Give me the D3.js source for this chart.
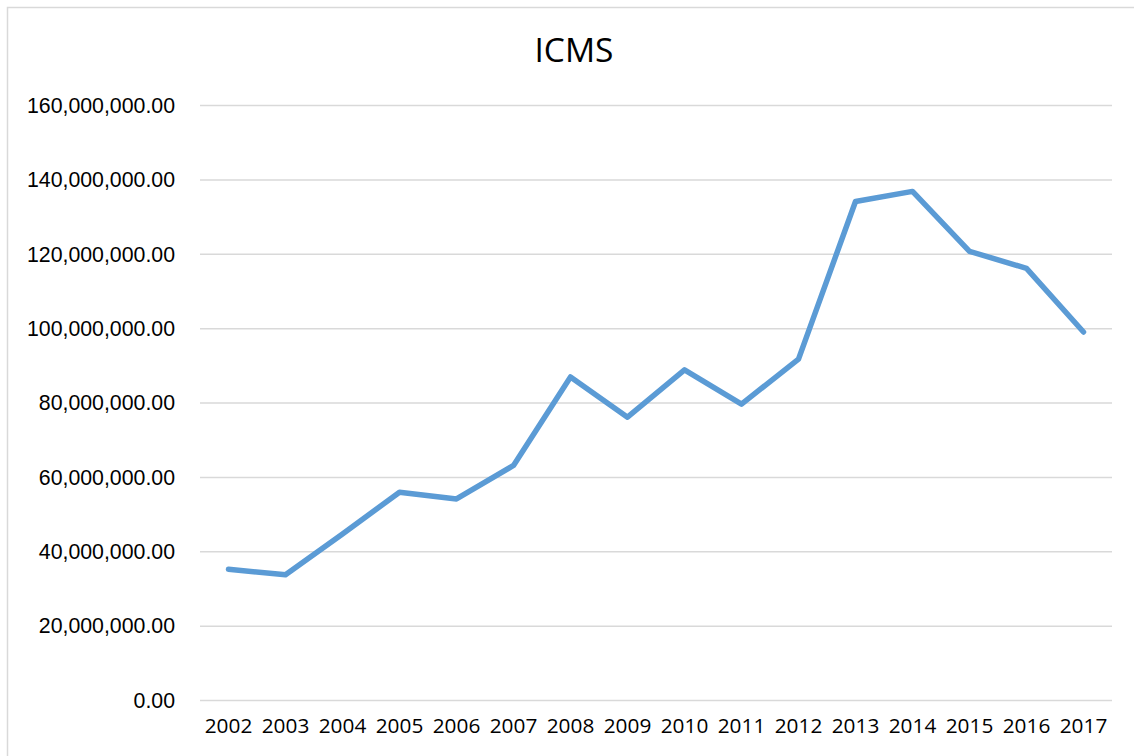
<!DOCTYPE html>
<html>
<head>
<meta charset="utf-8">
<script src="https://cdn.jsdelivr.net/npm/d3@7"></script>
<style>
  html, body { margin: 0; padding: 0; background: #fff; }
  svg { display: block; }
</style>
</head>
<body>
<svg id="chart" width="1134" height="756"></svg>
<script>
// ICMS yearly totals
const years = ["2002","2003","2004","2005","2006","2007","2008","2009",
               "2010","2011","2012","2013","2014","2015","2016","2017"];
const icms = [35.3e6, 33.8e6, 44.8e6, 56.0e6, 54.2e6, 63.2e6, 87.0e6, 76.2e6,
              88.9e6, 79.7e6, 91.8e6, 134.2e6, 136.9e6, 120.8e6, 116.2e6, 99.1e6];
const yTicks = [0, 20e6, 40e6, 60e6, 80e6, 100e6, 120e6, 140e6, 160e6];
const title = "ICMS";

const svg = d3.select("#chart");
const W = 1134, H = 756;

// chart area frame
svg.append("rect")
  .attr("x", 7.5).attr("y", 7.5)
  .attr("width", W + 10).attr("height", H + 10)
  .attr("fill", "#fff")
  .attr("stroke", "#D9D9D9").attr("stroke-width", 1.5);

const plot = { left: 200, right: 1112, top: 105.5, bottom: 700.5 };

const x = d3.scaleBand().domain(years).range([plot.left, plot.right]).padding(0);
const y = d3.scaleLinear().domain([0, 160e6]).range([plot.bottom, plot.top]);

// horizontal gridlines
svg.append("g")
  .selectAll("line")
  .data(yTicks)
  .join("line")
  .attr("x1", plot.left).attr("x2", plot.right)
  .attr("y1", d => y(d)).attr("y2", d => y(d))
  .attr("stroke", "#D9D9D9").attr("stroke-width", 1.5);

// y axis labels
const fmt = d3.format(",.2f");
const yAxis = d3.axisLeft(y).tickValues(yTicks).tickFormat(fmt).tickSize(0).tickPadding(25);
const gy = svg.append("g").attr("transform", `translate(${plot.left},0)`).call(yAxis);
gy.select(".domain").remove();
gy.selectAll("text")
  .attr("font-family", "'Liberation Sans', Arial, sans-serif")
  .attr("font-size", 21.3)
  .attr("fill", "#000");

// x axis labels
const xAxis = d3.axisBottom(x).tickSize(0).tickPadding(18);
const gx = svg.append("g").attr("transform", `translate(0,${plot.bottom})`).call(xAxis);
gx.select(".domain").remove();
gx.selectAll("text")
  .attr("font-family", "'Open Sans', sans-serif")
  .attr("font-size", 20.8)
  .attr("fill", "#000");

// series line
const line = d3.line()
  .x((d, i) => x(years[i]) + x.bandwidth() / 2)
  .y(d => y(d));

svg.append("path")
  .datum(icms)
  .attr("d", line)
  .attr("fill", "none")
  .attr("stroke", "#5B9BD5")
  .attr("stroke-width", 5.5)
  .attr("stroke-linejoin", "round")
  .attr("stroke-linecap", "round");

// title
svg.append("text")
  .attr("x", 574).attr("y", 62)
  .attr("text-anchor", "middle")
  .attr("font-family", "'Open Sans', sans-serif")
  .attr("font-size", 33.5)
  .attr("fill", "#000")
  .text(title);
</script>
</body>
</html>
